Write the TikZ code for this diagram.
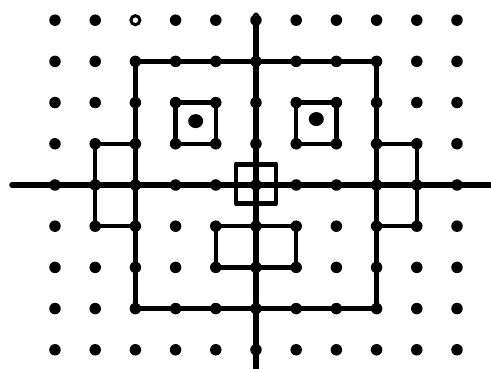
\documentclass[tikz,border=0pt]{standalone}
\usetikzlibrary{shapes.geometric}
\begin{document}
\begin{tikzpicture}[x=40.2pt,y=41.2pt,
  thick line/.style={line width=4.5pt, line join=round, line cap=round},
  axisline/.style={line width=5.5pt, line cap=round},
  gdot/.style={circle, fill=black, inner sep=0pt, minimum size=11.5pt},
  eyedot/.style={ellipse, fill=black, inner sep=0pt, minimum width=15pt, minimum height=14pt},
  ringdot/.style={circle, draw=black, line width=3pt, fill=white, inner sep=0pt, minimum size=9pt}]
\useasboundingbox (-6.368,-4.466) rectangle (5.846,4.490);
% axes
\coordinate (xl) at (-6.07,0);
\coordinate (xr) at (5.83,0);
\coordinate (yt) at (0,4.12);
\coordinate (yb) at (0,-4.47);
\draw[axisline] (xl) -- (xr);
\draw[axisline] (yt) -- (yb);
% outline of face
\coordinate (h1) at (-3,3); \coordinate (h2) at (3,3);
\coordinate (h3) at (3,-3); \coordinate (h4) at (-3,-3);
\draw[thick line] (h1) -- (h2) -- (h3) -- (h4) -- cycle;
% ears
\coordinate (l1) at (-3,1); \coordinate (l2) at (-4,1);
\coordinate (l3) at (-4,-1); \coordinate (l4) at (-3,-1);
\draw[thick line] (l1) -- (l2) -- (l3) -- (l4);
\coordinate (r1) at (3,1); \coordinate (r2) at (4,1);
\coordinate (r3) at (4,-1); \coordinate (r4) at (3,-1);
\draw[thick line] (r1) -- (r2) -- (r3) -- (r4);
% eyes
\coordinate (le1) at (-2,2); \coordinate (le2) at (-1,1);
\draw[thick line] (le1) rectangle (le2);
\coordinate (re1) at (1,2); \coordinate (re2) at (2,1);
\draw[thick line] (re1) rectangle (re2);
\node[eyedot] (lp) at (-1.5,1.55) {};
\node[eyedot] (rp) at (1.5,1.6) {};
% nose
\coordinate (n1) at (-0.5,0.5); \coordinate (n2) at (0.5,-0.45);
\draw[thick line] (n1) rectangle (n2);
% mouth
\coordinate (m1) at (-1,-1); \coordinate (m2) at (1,-2);
\draw[thick line] (m1) rectangle (m2);
% grid dots
\foreach \i in {-5,...,5}{
  \foreach \j in {-4,...,4}{
    \ifnum\i=-3 \ifnum\j=4 \else \node[gdot] (d\i\j) at (\i,\j) {}; \fi
    \else \node[gdot] (d\i\j) at (\i,\j) {}; \fi
  }
}
\node[ringdot] (ring) at (-3,4) {};
\end{tikzpicture}
\end{document}
